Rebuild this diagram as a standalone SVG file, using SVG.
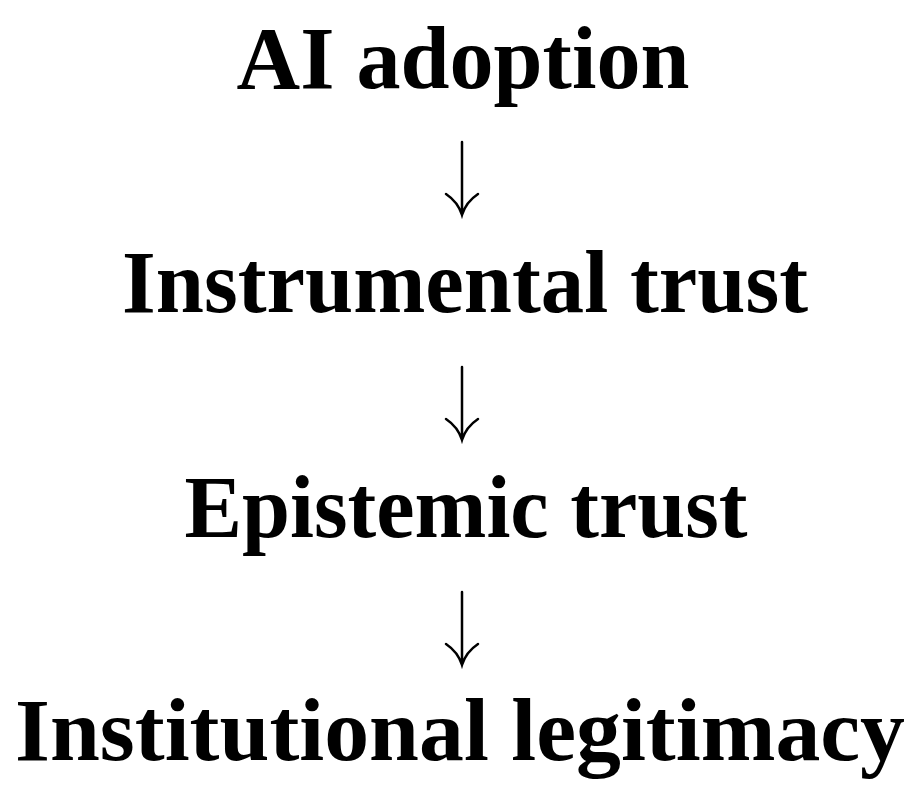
<svg xmlns="http://www.w3.org/2000/svg" width="922" height="802" viewBox="0 0 922 802">
<style>
.t{font-family:"Liberation Serif","DejaVu Serif",serif;font-weight:bold;font-size:88px;fill:#000;text-anchor:middle}
.c{fill:none;stroke:#000;stroke-width:2.5;stroke-linecap:round}
</style>
<rect width="922" height="802" fill="#fff"/>
<g id="n1"><text class="t" x="463" y="88" textLength="453" lengthAdjust="spacingAndGlyphs">AI adoption</text></g>
<g id="n2"><text class="t" x="465" y="312" textLength="686" lengthAdjust="spacingAndGlyphs">Instrumental trust</text></g>
<g id="n3"><text class="t" x="466" y="537" textLength="563" lengthAdjust="spacingAndGlyphs">Epistemic trust</text></g>
<g id="n4"><text class="t" x="460" y="760" textLength="890" lengthAdjust="spacingAndGlyphs">Institutional legitimacy</text></g>
<g id="connectors">
<path class="c" d="M462 142V214M446 194Q458 202 462 215Q466 202 478 194"/>
<path class="c" d="M462 367V439M446 419Q458 427 462 440Q466 427 478 419"/>
<path class="c" d="M462 592V664M446 644Q458 652 462 665Q466 652 478 644"/>
</g>
</svg>
